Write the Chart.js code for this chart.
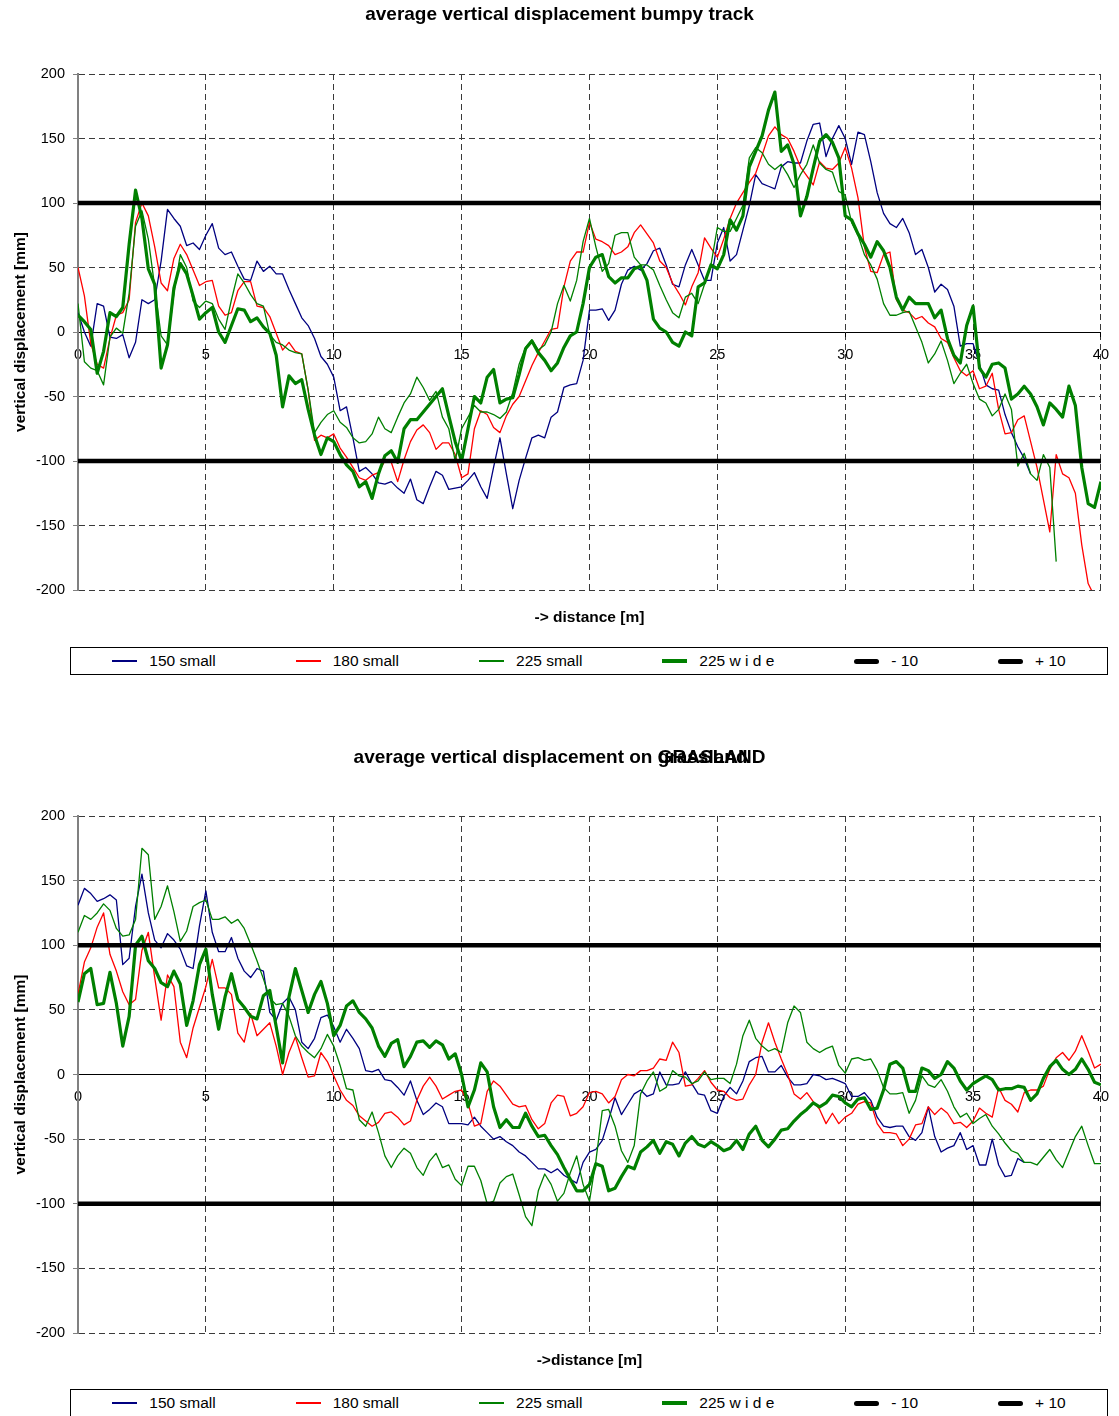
<!DOCTYPE html>
<html>
<head>
<meta charset="utf-8">
<script src="https://cdn.jsdelivr.net/npm/chart.js@4.4.1/dist/chart.umd.min.js"></script>
<style>
  body { margin: 0; background: #fff; }
  #page { position: relative; width: 1119px; height: 1416px; overflow: hidden; background: #fff; }
  canvas { position: absolute; left: 0; }
  .legend {
    position: absolute; left: 70px; width: 1038px; height: 28px; box-sizing: border-box;
    border: 1px solid #000; display: flex; align-items: center; justify-content: center; gap: 80px;
    font: 15.5px "Liberation Sans", Arial, sans-serif; color: #000;
  }
  .legend .item { display: flex; align-items: center; white-space: pre; }
  .legend .swatch { width: 25px; margin-right: 12px; }
</style>
</head>
<body>
<div id="page">
  <canvas id="bumpy" width="1119" height="640" style="top:0px"></canvas>
  <div class="legend" id="legendBumpy" style="top:647px"></div>
  <canvas id="grass" width="1119" height="640" style="top:742px"></canvas>
  <div class="legend" id="legendGrass" style="top:1389px"></div>
</div>
<script>
// distance along the track [m]
const distance = [
  0, 0.25, 0.5, 0.75, 1, 1.25, 1.5, 1.75, 2, 2.25, 2.5, 2.75, 3, 3.25, 3.5, 3.75, 4, 4.25, 4.5, 4.75,
  5, 5.25, 5.5, 5.75, 6, 6.25, 6.5, 6.75, 7, 7.25, 7.5, 7.75, 8, 8.25, 8.5, 8.75, 9, 9.25, 9.5, 9.75,
  10, 10.25, 10.5, 10.75, 11, 11.25, 11.5, 11.75, 12, 12.25, 12.5, 12.75, 13, 13.25, 13.5, 13.75, 14, 14.25, 14.5, 14.75,
  15, 15.25, 15.5, 15.75, 16, 16.25, 16.5, 16.75, 17, 17.25, 17.5, 17.75, 18, 18.25, 18.5, 18.75, 19, 19.25, 19.5, 19.75,
  20, 20.25, 20.5, 20.75, 21, 21.25, 21.5, 21.75, 22, 22.25, 22.5, 22.75, 23, 23.25, 23.5, 23.75, 24, 24.25, 24.5, 24.75,
  25, 25.25, 25.5, 25.75, 26, 26.25, 26.5, 26.75, 27, 27.25, 27.5, 27.75, 28, 28.25, 28.5, 28.75, 29, 29.25, 29.5, 29.75,
  30, 30.25, 30.5, 30.75, 31, 31.25, 31.5, 31.75, 32, 32.25, 32.5, 32.75, 33, 33.25, 33.5, 33.75, 34, 34.25, 34.5, 34.75,
  35, 35.25, 35.5, 35.75, 36, 36.25, 36.5, 36.75, 37, 37.25, 37.5, 37.75, 38, 38.25, 38.5, 38.75, 39, 39.25, 39.5, 39.75,
  40
];

// bumpy track, average vertical displacement [mm]
const bumpy150 = [
  15, 0, -11, 22, 20, -4, -5, -2, -20, -8, 25, 22,
  25, 55, 95, 88, 82, 67, 69, 64, 75, 84, 65, 60,
  62, 51, 41, 40, 55, 47, 51, 45, 45, 33, 22, 11,
  5, -5, -19, -25, -35, -61,
  -58, -82,
  -108, -105, -110, -117, -118, -116, -121, -125, -114, -130, -133, -120,
  -108, -111, -122, -121, -120, -115, -109, -120, -129, -105, -82, -110,
  -137, -115, -98, -82, -80, -82, -66, -62, -43, -41, -40, -22,
  17,
  17, 18, 9, 17, 37, 48, 51, 48, 53, 63, 65,
  52, 37, 35, 52, 64, 52, 40, 40, 69, 81, 55, 60,
  79, 98, 122, 115, 113, 111, 128, 132, 131, 131, 148, 161,
  162, 136, 150, 160, 150,
  130, 155, 153, 132, 108, 92, 84, 81, 88, 77, 60,
  64, 50, 31, 37, 33, 20, -11, -9, -9, -25, -41, -44,
  -45, -64, -78, -89, -98, -110,
  null, null, null, null, null, null, null, null, null, null, null
];
const bumpy180 = [
  50, 28, -9, -25, -28, -5, 13, 15, 25, 85, 100, 90,
  66, 38, 32, 57, 68, 60, 48, 36, 39, 40, 20, 13,
  15, 32, 39, 39, 20, 19, 12, -1, -14, -8, -15, -17,
  -45, -84, -80, -82, -79, -90,
  -97, -105,
  -113, -115, -111, -109, -100, -101, -116, -99, -85, -76, -72, -78,
  -91, -86, -86, -95, -113, -110, -75, -61, -64, -74, -78, -65,
  -56, -50, -38, -26, -16, -7, 2, 3, 35, 55, 62, 62,
  85,
  72, 70, 67, 60, 62, 66, 77, 83, 76, 69, 55,
  50, 38, 30, 21, 35, 46, 73, 65, 58, 72, 88, 100,
  108, 116, 123, 137, 152, 159, 153, 150, 140, 128, 121, 114,
  132, 127, 126, 131, 143,
  127, 104, 66, 47, 46, 60, 62, 25, 17, 15, 10,
  12, 7, 4, -5, -8, -20, -30, -34, -30, -44, -42, -32,
  -60, -79, -78, -68, -65, -85, -105, -130, -155, -95, -110, -113,
  -125, -165, -195, -205, null
];
const bumpy225 = [
  22, -23, -28, -30, -41, -4, 3, -1, 30, 82, 94, 72,
  35, -3, -10, 30, 60, 50, 24, 19, 24, 22, 10, 2,
  25, 45, 38, 29, 22, 20, -2, -8, -10, -14, -16, -17,
  -45, -78, -70, -64, -61, -70,
  -74, -82,
  -86, -85, -79, -66, -75, -78, -66, -55, -48, -35, -43, -53,
  -46, -66, -75, -100, -75, -66, -57, -62, -62, -64, -67, -62,
  -47, -25, -12, -6, -14, -10, 0, 22, 36, 24, 40, 70,
  88,
  66, 47, 53, 75, 77, 77, 58, 52, 52, 48, 36,
  25, 15, 11, 27, 30, 22, 37, 52, 81, 78, 78, 88,
  98, 135, 143, 139, 130, 126, 130, 122, 112, 122, 130, 145,
  131, 126, 124, 109, 106,
  85, 75, 60, 52, 41, 22, 13, 13, 15, 16, 4,
  -8, -24, -17, -7, -22, -40, -32, -25, -40, -52, -55, -65,
  -60, -48, -60, -104, -94, -110, -115, -95, -105, -178,
  null, null, null, null, null, null, null
];
const bumpy225w = [
  13, 8, 2, -32, -15, 15, 12, 19, 68, 110, 88, 49,
  37, -28, -10, 34, 53, 45, 28, 10, 15, 19, 0, -8,
  5, 18, 17, 8, 11, 4, -1, -18, -58, -34, -40, -37,
  -60, -80, -95, -82, -85, -95,
  -103, -108,
  -120, -116, -129, -110, -96, -92, -101, -75, -68, -68, -62, -56,
  -50, -44, -65, -85, -100, -75, -50, -55, -35, -29, -55, -52,
  -51, -33, -13, -7, -16, -22, -30, -24, -12, -3, 0, 22,
  50,
  58, 60, 43, 38, 42, 42, 49, 51, 40, 10, 3,
  0, -8, -11, 0, -3, 35, 38, 52, 49, 60, 87, 79,
  90, 128, 140, 152, 172, 186, 140, 145, 130, 90, 105, 127,
  148, 153, 147, 135, 90,
  87, 76, 68, 58, 70, 63, 50, 27, 17, 27, 22,
  22, 22, 11, 17, -5, -18, -24, 5, 20, -28, -35, -25,
  -24, -28, -52, -48, -42, -48, -58, -72, -55, -60, -66, -42,
  -57, -105, -133, -136, -116
];

// grassland, average vertical displacement [mm]
const grass150 = [
  131, 144, 140, 134, 136, 139, 135, 85, 90, 130, 155, 125,
  104, 98, 109, 104, 97, 84, 82, 115, 142, 110, 95, 95,
  106, 90, 80, 75, 82, 80, 48, 42, 55, 60, 50, 25,
  20, 28, 44, 46, 37, 25,
  35, 28,
  20, 3, 2, 4, -4, -5, -10, -16, -5, -20, -31, -27,
  -22, -25, -38, -38, -38, -39, -33, -40, -45, -50, -48, -52,
  -55, -60, -63, -68, -73, -73, -76, -73, -78, -81, -84, -68,
  -60,
  -58, -51, -35, -18, -31, -23, -15, -12, -17, -15, 2,
  -8, -8, -7, 2, -7, -15, -16, -28, -30, -17, -10, -15,
  -5, 10, 13, 14, 2, 2, 7, -2, -8, -8, -7, 0,
  -1, -4, -3, -5, -7,
  -17, -17, -14, -20, -33, -40, -41, -40, -40, -48, -51,
  -45, -25, -48, -60, -57, -55, -45, -58, -55, -70, -70, -50,
  -70, -79, -78, -65, -68,
  null, null, null, null, null, null, null, null, null, null, null, null
];
const grass180 = [
  62, 87, 98, 114, 125, 93, 80, 64, 54, 58, 96, 110,
  75, 42, 77, 68, 25, 13, 36, 52, 68, 89, 67, 67,
  62, 32, 25, 47, 30, 35, 40, 22, 0, 17, 29, 13,
  -2, -1, 17, 10, -1, -12,
  -20, -24,
  -32, -36, -40, -37, -30, -29, -33, -39, -36, -20, -9, -2,
  -9, -19, -16, -13, -12, -22, -40, -38, -13, -5, -9, -16,
  -23, -25, -24, -35, -42, -38, -22, -16, -17, -32, -30, -25,
  -14,
  -13, -15, -22, -17, -4, 0, -1, 3, 3, 5, 12,
  11, 25, 17, -9, -8, -3, 3, -6, -12, -13, -18, -20,
  -19, -8, 0, 25, 40, 25, 12, 0, -15, -19, -14, -21,
  -27, -38, -30, -38, -33,
  -30, -23, -21, -22, -38, -45, -45, -46, -55, -50, -39,
  -38, -25, -31, -26, -30, -38, -37, -41, -36, -26, -30, -33,
  -10, -20, -23, -29, -14, -12, -12, -9, 4, 13, 17, 11,
  18, 30, 18, 5, 8
];
const grass225 = [
  110, 123, 120, 125, 132, 127, 113, 107, 108, 120, 175, 170,
  120, 130, 146, 126, 103, 111, 130, 133, 135, 120, 120, 122,
  117, 120, 113, 101, 88, 74, 59, 54, 55, 45, 30, 22,
  17, 13, 20, 31, 22, 7,
  -11, -12,
  -35, -40, -29, -45, -63, -72, -63, -57, -61, -72, -78, -67,
  -61, -72, -70, -81, -86, -71, -71, -82, -100, -98, -84, -79,
  -77, -93, -110, -117, -90, -77, -85, -98, -92, -76, -63, -85,
  -98,
  -67, -28, -27, -40, -59, -68, -55, -15, -5, 2, -13,
  -10, 3, -1, -2, -7, -5, 2, -4, -3, -3, -7, 8,
  30, 42, 28, 22, 18, 20, 17, 40, 53, 48, 25, 20,
  17, 20, 22, 7, 1,
  12, 13, 11, 12, 3, -10, -15, -15, -14, -30, -20,
  -1, -8, -10, -4, -13, -25, -33, -30, -38, -34, -31, -40,
  -46, -53, -59, -61, -68, -68, -70, -64, -58, -66, -72, -60,
  -48, -40, -55, -69, -69
];
const grass225w = [
  56, 78, 82, 54, 55, 79, 55, 22, 45, 100, 107, 88,
  82, 71, 68, 80, 70, 38, 57, 85, 97, 62, 35, 60,
  78, 58, 52, 45, 43, 61, 65, 37, 9, 60, 82, 65,
  48, 62, 72, 55, 30, 38,
  53, 57,
  48, 43, 36, 22, 14, 24, 27, 6, 14, 25, 26, 21,
  26, 23, 12, 16, 0, -25, -12, 9, 2, -25, -41, -35,
  -41, -41, -30, -40, -48, -47, -55, -62, -72, -81, -90, -90,
  -85,
  -69, -71, -90, -88, -79, -71, -73, -60, -56, -51, -61,
  -52, -54, -63, -53, -48, -54, -56, -52, -55, -59, -57, -51,
  -58, -46, -40, -51, -56, -50, -43, -42, -36, -31, -27, -22,
  -25, -22, -16, -17, -22,
  -25, -19, -18, -27, -26, -12, 8, 10, 5, -13, -13,
  5, 3, -3, 0, 10, 5, -5, -12, -7, -4, -1, -4,
  -12, -11, -11, -9, -10, -20, -15, -3, 6, 11, 4, 0,
  4, 12, 4, -6, -8
];

// the -10 / +10 limit lines (at -100 and +100 mm)
const limitDistance = [0, 40];
const minus10 = [-100, -100];
const plus10 = [100, 100];

const seriesNames = ['150 small', '180 small', '225 small', '225 w i d e', '- 10', '+ 10'];
const seriesColors = ['#000080', '#ff0000', '#008000', '#008000', '#000000', '#000000'];
const lineWidths = [1.3, 1.3, 1.3, 3.2, 4.5, 4.5];
const swatchWidths = [2, 2, 2, 4, 5, 5];

const FONT = '"Liberation Sans", Arial, sans-serif';
Chart.defaults.font.family = FONT;
Chart.defaults.color = '#000';

function toPoints(xs, ys) {
  return ys.map((y, i) => ({ x: xs[i], y: y }));
}

// x axis title under the plot, plus the overprinted word in the second title
const captionPlugin = {
  id: 'caption',
  afterDraw(chart, args, opts) {
    const { ctx, chartArea } = chart;
    ctx.save();
    ctx.fillStyle = '#000';
    ctx.font = 'bold 15.5px ' + FONT;
    ctx.textAlign = 'center';
    ctx.textBaseline = 'middle';
    ctx.fillText(opts.text, (chartArea.left + chartArea.right) / 2, chartArea.bottom + 28);

    if (opts.overprint) {
      const t = chart.titleBlock;
      const titleOpts = chart.options.plugins.title;
      const full = titleOpts.text;
      ctx.font = 'bold 19px ' + FONT;
      const startX = (t.left + t.right) / 2 - ctx.measureText(full).width / 2;
      const prefix = full.slice(0, full.indexOf(opts.overprint.under));
      ctx.textAlign = 'left';
      ctx.fillText(opts.overprint.text, startX + ctx.measureText(prefix).width,
        t.top + titleOpts.padding.top + 11.4);
    }
    ctx.restore();
  }
};

function gridColor(ctx) {
  return ctx.tick && ctx.tick.value === 0 ? 'rgba(0,0,0,0)' : '#3a3a3a';
}

function makeChart(canvasId, title, titleTop, caption, values, overprint) {
  const datasets = values.map((v, i) => ({
    label: seriesNames[i],
    data: toPoints(i < 4 ? distance : limitDistance, v),
    borderColor: seriesColors[i],
    backgroundColor: seriesColors[i],
    borderWidth: lineWidths[i],
    borderJoinStyle: 'round',
    pointRadius: 0,
    tension: 0,
    fill: false,
    spanGaps: false,
    order: values.length - i // later series drawn on top
  }));

  return new Chart(document.getElementById(canvasId), {
    type: 'line',
    data: { datasets },
    plugins: [captionPlugin],
    options: {
      responsive: false,
      animation: false,
      events: [],
      layout: { padding: { left: 13, right: 13, top: 0, bottom: canvasId === 'bumpy' ? 50 : 49 } },
      plugins: {
        legend: { display: false },
        tooltip: { enabled: false },
        title: {
          display: true,
          text: title,
          color: '#000',
          font: { size: 19, weight: 'bold' },
          padding: { top: titleTop, bottom: 74 - 22.8 - titleTop }
        },
        caption: { text: caption, overprint: overprint }
      },
      scales: {
        x: {
          type: 'linear',
          min: 0,
          max: 40,
          position: { y: 0 },
          ticks: { stepSize: 5, color: '#000', font: { size: 14.5 }, padding: 10, maxRotation: 0 },
          grid: { color: gridColor, lineWidth: 1, tickLength: 4, tickColor: '#000' },
          border: { display: true, color: '#000', width: 1, dash: [6, 4] }
        },
        y: {
          type: 'linear',
          min: -200,
          max: 200,
          ticks: { stepSize: 50, color: '#000', font: { size: 14.5 }, padding: 8 },
          grid: { color: gridColor, lineWidth: 1, tickLength: 5, tickColor: '#808080' },
          border: { display: true, color: '#808080', width: 2, dash: [6, 4] },
          title: {
            display: true,
            text: 'vertical displacement [mm]',
            color: '#000',
            font: { size: 15.5, weight: 'bold' },
            padding: { top: -2, bottom: 0 }
          },
          afterFit(scale) { scale.width = 65; }
        }
      }
    }
  });
}

function makeLegend(id) {
  const box = document.getElementById(id);
  seriesNames.forEach((name, i) => {
    const item = document.createElement('span');
    item.className = 'item';
    const sw = document.createElement('span');
    sw.className = 'swatch';
    sw.style.height = swatchWidths[i] + 'px';
    sw.style.background = seriesColors[i];
    if (i > 3) sw.style.borderRadius = '3px';
    const label = document.createElement('span');
    label.textContent = name;
    item.appendChild(sw);
    item.appendChild(label);
    box.appendChild(item);
  });
}

makeChart('bumpy', 'average vertical displacement bumpy track', 3.6, '-> distance [m]',
  [bumpy150, bumpy180, bumpy225, bumpy225w, minus10, plus10], null);
makeChart('grass', 'average vertical displacement on GRASLAND', 4.6, '->distance [m]',
  [grass150, grass180, grass225, grass225w, minus10, plus10],
  { under: 'GRASLAND', text: 'grassland' });
makeLegend('legendBumpy');
makeLegend('legendGrass');
</script>
</body>
</html>
